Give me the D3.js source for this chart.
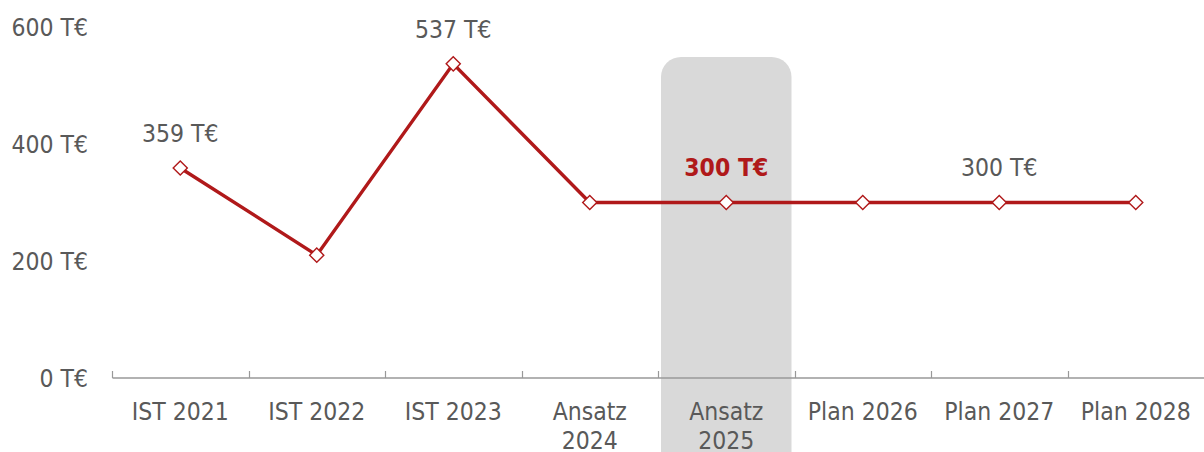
<!DOCTYPE html>
<html><head><meta charset="utf-8">
<script src="https://cdn.jsdelivr.net/npm/d3@7"></script>
<style>body{margin:0;background:#fff}svg{display:block}</style>
</head><body>
<svg id="c" width="1204" height="452"></svg>
<script>
const categories = [["IST 2021"],["IST 2022"],["IST 2023"],["Ansatz","2024"],["Ansatz","2025"],["Plan 2026"],["Plan 2027"],["Plan 2028"]];
const values = [359, 210, 537, 300, 300, 300, 300, 300];
const labelShown = [true, false, true, false, true, false, true, false];
const yTicks = [0, 200, 400, 600];
const highlightIndex = 4;

const W = 1204, H = 452;
const svg = d3.select("#c");
const font = "'DejaVu Sans Condensed', 'DejaVu Sans', sans-serif";
const red = "#b0191a", gray = "#595959";
const fs = "24.5px";

const x = d3.scaleBand().domain(d3.range(categories.length)).range([112, 1204]).padding(0);
const y = d3.scaleLinear().domain([0, 600]).range([378, 27]);

// highlight
svg.append("rect")
  .attr("x", x(highlightIndex) + 3).attr("width", x.bandwidth() - 6)
  .attr("y", 57).attr("height", 420).attr("rx", 20)
  .attr("fill", "#d9d9d9");

// y labels
svg.selectAll(".yl").data(yTicks).enter().append("text")
  .attr("x", 88).attr("y", d => y(d)).attr("dy", "0.36em")
  .attr("text-anchor", "end").attr("fill", gray)
  .style("font-family", font).style("font-size", fs)
  .text(d => d + " T€");

// x axis
const ax = d3.axisBottom(x).tickSize(0).tickFormat("");
const g = svg.append("g").attr("transform", "translate(0,378)").call(ax);
g.select(".domain").attr("stroke", "#999").attr("stroke-width", 1.3).attr("d", "M112.5,0H1204");
g.selectAll(".tick").remove();
const edges = d3.range(categories.length).map(i => x(i));
g.selectAll(".edge").data(edges).enter().append("line")
  .attr("x1", d => Math.round(d) + 0.5).attr("x2", d => Math.round(d) + 0.5)
  .attr("y1", -7).attr("y2", 0).attr("stroke", "#999").attr("stroke-width", 1.2);

// category labels
const cl = svg.selectAll(".cl").data(categories).enter().append("text")
  .attr("x", (d, i) => x(i) + x.bandwidth() / 2)
  .attr("y", 411).attr("text-anchor", "middle").attr("fill", gray)
  .style("font-family", font).style("font-size", fs);
cl.each(function(d) {
  const t = d3.select(this);
  d.forEach((line, j) => {
    t.append("tspan").attr("x", t.attr("x")).attr("y", 411 + j * 29).attr("dy", "0.36em").text(line);
  });
});

// line
const line = d3.line().x((d, i) => x(i) + x.bandwidth() / 2).y(d => y(d));
svg.append("path").datum(values).attr("d", line)
  .attr("fill", "none").attr("stroke", red).attr("stroke-width", 3.4).attr("stroke-linejoin", "miter");

// markers
const sym = d3.symbol().type(d3.symbolSquare).size(100);
svg.selectAll(".m").data(values).enter().append("path")
  .attr("d", sym)
  .attr("transform", (d, i) => `translate(${x(i) + x.bandwidth() / 2},${y(d)}) rotate(45)`)
  .attr("fill", "#fff").attr("stroke", red).attr("stroke-width", 1.4);

// value labels
svg.selectAll(".vl").data(values.map((v, i) => ({v, i})).filter(d => labelShown[d.i])).enter().append("text")
  .attr("x", d => x(d.i) + x.bandwidth() / 2)
  .attr("y", d => y(d.v) - 35).attr("dy", "0.36em")
  .attr("text-anchor", "middle")
  .attr("fill", d => d.i === highlightIndex ? red : gray)
  .style("font-weight", d => d.i === highlightIndex ? "bold" : "normal")
  .style("font-family", font).style("font-size", fs)
  .text(d => d.v + " T€");
</script>
</body></html>
